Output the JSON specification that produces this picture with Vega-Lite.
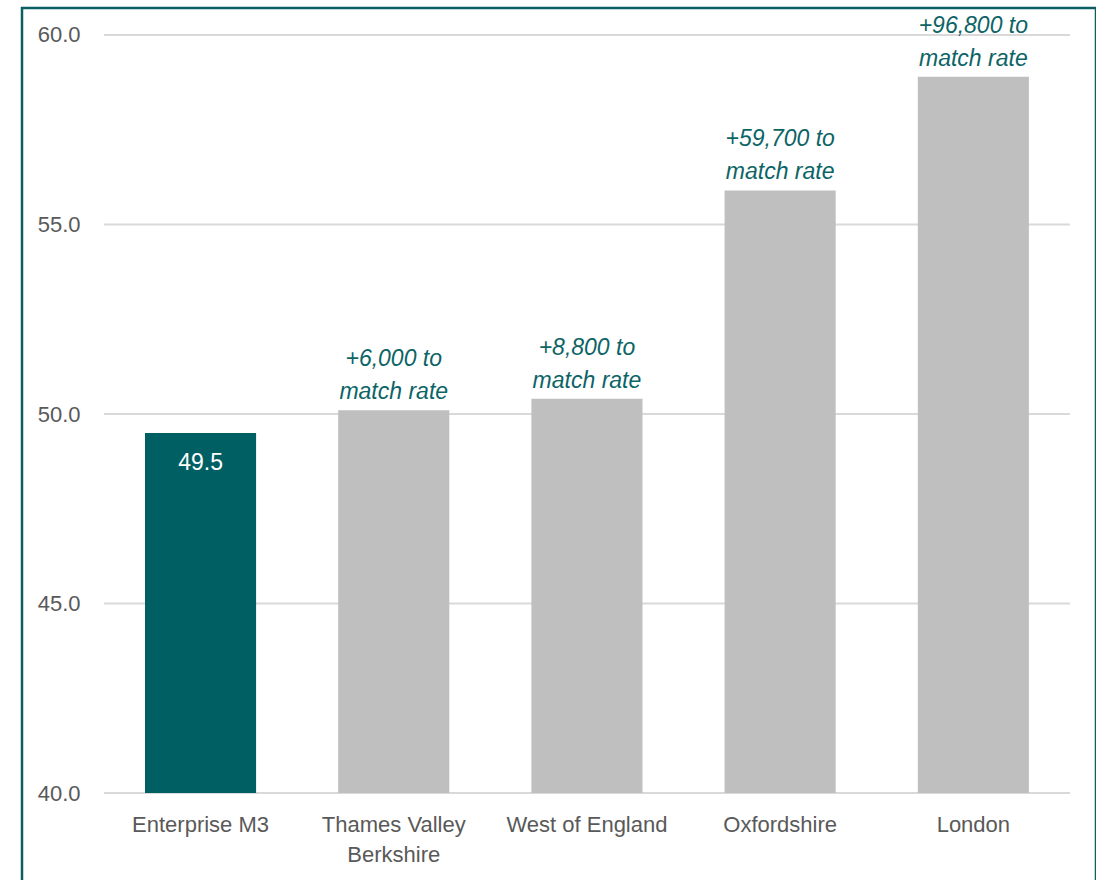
{
  "$schema": "https://vega.github.io/schema/vega-lite/v6.json",
  "width": 1074,
  "height": 892,
  "autosize": {"type": "none"},
  "padding": {"left": 22, "top": 8, "right": 0, "bottom": 0},
  "background": "white",
  "config": {
    "font": "Liberation Sans",
    "view": {"stroke": "#0b5f63", "strokeWidth": 2.5}
  },
  "datasets": {
    "bars": [
      {"region": "Enterprise M3", "value": 49.5, "note": null},
      {"region": "Thames Valley Berkshire", "value": 50.1, "note": "+6,000 to\nmatch rate"},
      {"region": "West of England", "value": 50.4, "note": "+8,800 to\nmatch rate"},
      {"region": "Oxfordshire", "value": 55.9, "note": "+59,700 to\nmatch rate"},
      {"region": "London", "value": 58.9, "note": "+96,800 to\nmatch rate"}
    ],
    "grid": [{"v": 40}, {"v": 45}, {"v": 50}, {"v": 55}, {"v": 60}]
  },
  "layer": [
    {
      "data": {"name": "grid"},
      "mark": {"type": "rule", "color": "#d9d9d9", "strokeWidth": 2},
      "encoding": {
        "x": {"datum": "Enterprise M3", "type": "nominal", "bandPosition": -0.369},
        "x2": {"datum": "London", "bandPosition": 1.37},
        "y": {"field": "v", "type": "quantitative"}
      }
    },
    {
      "data": {"name": "bars"},
      "mark": {"type": "bar"},
      "encoding": {
        "x": {
          "field": "region",
          "type": "nominal",
          "sort": null,
          "scale": {
            "domain": ["Enterprise M3", "Thames Valley Berkshire", "West of England", "Oxfordshire", "London"],
            "paddingInner": 0.425,
            "paddingOuter": 0.492,
            "align": 0.647
          },
          "axis": {
            "orient": "bottom",
            "offset": -107,
            "domain": false,
            "ticks": false,
            "tickSize": 0,
            "labelPadding": 31,
            "labelFontSize": 22,
            "labelColor": "#595959",
            "labelAngle": 0,
            "labelAlign": "center",
            "labelOverlap": false,
            "labelLineHeight": 30,
            "labelLimit": 0,
            "labelExpr": "datum.label == 'Thames Valley Berkshire' ? ['Thames Valley', 'Berkshire'] : datum.label",
            "title": null
          }
        },
        "y": {
          "field": "value",
          "type": "quantitative",
          "scale": {"domain": [37.1768, 60.7124], "nice": false, "zero": false},
          "axis": {
            "values": [40, 45, 50, 55, 60],
            "format": ".1f",
            "grid": false,
            "domain": false,
            "ticks": false,
            "tickSize": 0,
            "labelPadding": 4,
            "offset": -62,
            "labelFontSize": 22,
            "labelColor": "#595959",
            "title": null
          }
        },
        "y2": {"datum": 40},
        "color": {
          "condition": {"test": "datum.region == 'Enterprise M3'", "value": "#005f63"},
          "value": "#bfbfbf"
        }
      }
    },
    {
      "data": {"name": "bars"},
      "transform": [{"filter": "datum.region == 'Enterprise M3'"}],
      "mark": {"type": "text", "color": "white", "fontSize": 23, "baseline": "alphabetic", "dy": 37},
      "encoding": {
        "x": {"field": "region", "type": "nominal", "sort": null},
        "y": {"field": "value", "type": "quantitative"},
        "text": {"field": "value", "type": "quantitative", "format": ".1f"}
      }
    },
    {
      "data": {"name": "bars"},
      "transform": [{"filter": "datum.note != null"}],
      "mark": {
        "type": "text",
        "color": "#0c6466",
        "fontSize": 23,
        "fontStyle": "italic",
        "lineBreak": "\n",
        "lineHeight": 33,
        "baseline": "alphabetic",
        "dy": -44
      },
      "encoding": {
        "x": {"field": "region", "type": "nominal", "sort": null},
        "y": {"field": "value", "type": "quantitative"},
        "text": {"field": "note", "type": "nominal"}
      }
    }
  ]
}
